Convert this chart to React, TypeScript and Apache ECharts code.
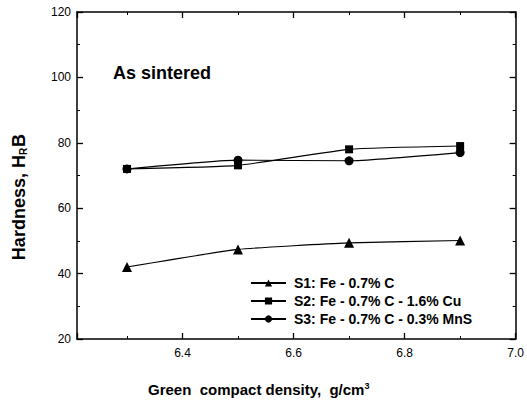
import React, { useEffect, useRef } from "react";
import * as echarts from "echarts";

const densities = [6.3, 6.5, 6.7, 6.9];
const s1Values = [42, 47.4, 49.4, 50.1];
const s2Values = [72, 73.1, 78, 79];
const s3Values = [72, 74.7, 74.5, 77];
const seriesNames = [
  "S1: Fe - 0.7% C",
  "S2: Fe - 0.7% C - 1.6% Cu",
  "S3: Fe - 0.7% C - 0.3% MnS",
];
const FONT = "'Liberation Sans', Arial, Helvetica, sans-serif";

export default function App() {
  const ref = useRef<HTMLDivElement>(null);
  useEffect(() => {
    if (!ref.current) return;
    const chart = echarts.init(ref.current, null, { renderer: "svg" });
    const pair = (vals: number[]) => densities.map((d, i) => [d, vals[i]]);
    const axisLine = { show: true, lineStyle: { color: "#000", width: 1.5 } };
    const xCommon = {
      type: "value" as const,
      min: 6.21,
      max: 7.0,
      splitNumber: 4,
      axisLine,
      axisTick: { show: true, inside: true, length: 6, lineStyle: { color: "#000", width: 1.3 } },
      minorTick: { show: true, splitNumber: 2, length: 3, lineStyle: { color: "#000", width: 1 } },
      splitLine: { show: false },
      minorSplitLine: { show: false },
    };
    const yCommon = {
      type: "value" as const,
      min: 20,
      max: 120,
      interval: 20,
      axisLine,
      axisTick: { show: true, inside: true, length: 6, lineStyle: { color: "#000", width: 1.3 } },
      minorTick: { show: true, splitNumber: 2, length: 3, lineStyle: { color: "#000", width: 1 } },
      splitLine: { show: false },
      minorSplitLine: { show: false },
    };
    const symbols = ["triangle", "rect", "circle"];
    const sizes = [10, 8, 9];
    const values = [s1Values, s2Values, s3Values];
    chart.setOption({
      animation: false,
      backgroundColor: "#fff",
      grid: { left: 77, right: 8, top: 12, bottom: 64, containLabel: false },
      xAxis: [
        {
          ...xCommon,
          position: "bottom",
          axisLabel: {
            show: true,
            showMinLabel: false,
            color: "#000",
            fontSize: 12,
            fontFamily: FONT,
            margin: 8,
            formatter: (v: number) => v.toFixed(1),
          },
        },
        { ...xCommon, position: "top", axisLabel: { show: false } },
      ],
      yAxis: [
        {
          ...yCommon,
          position: "left",
          axisLabel: { show: true, color: "#000", fontSize: 12, fontFamily: FONT, margin: 6 },
        },
        { ...yCommon, position: "right", axisLabel: { show: false } },
      ],
      legend: {
        orient: "vertical",
        left: 250,
        top: 276,
        padding: 0,
        itemWidth: 35,
        itemHeight: 9,
        itemGap: 4,
        data: seriesNames,
        textStyle: {
          color: "#000",
          fontSize: 14,
          fontWeight: "bold",
          fontFamily: FONT,
          padding: [0, 0, 0, 3],
        },
      },
      series: seriesNames.map((name, i) => ({
        name,
        type: "line",
        xAxisIndex: 0,
        yAxisIndex: 0,
        data: pair(values[i]),
        symbol: symbols[i],
        symbolSize: sizes[i],
        smooth: 0.15,
        color: "#000",
        itemStyle: { color: "#000" },
        lineStyle: { color: "#000", width: 1.1 },
      })),
      graphic: [
        {
          type: "text",
          left: 113,
          top: 64,
          style: {
            text: "As sintered",
            fill: "#000",
            font: `bold 18px ${FONT}`,
          },
        },
        {
          type: "text",
          x: 19,
          y: 197,
          rotation: Math.PI / 2,
          style: {
            text: "{a|Hardness, H}{s|R}{a|B}",
            fill: "#000",
            align: "center",
            verticalAlign: "middle",
            rich: {
              a: { fontSize: 18, fontWeight: "bold", fontFamily: FONT, fill: "#000", color: "#000" },
              s: {
                fontSize: 10,
                fontWeight: "bold",
                fontFamily: FONT,
                fill: "#000",
                color: "#000",
                verticalAlign: "bottom",
                padding: [0, 1, 0, 0],
              },
            },
          },
        },
        {
          type: "text",
          x: 148,
          y: 389,
          style: {
            text: "{a|Green  compact density,  g/cm}{s|3}",
            fill: "#000",
            align: "left",
            verticalAlign: "middle",
            rich: {
              a: { fontSize: 15, fontWeight: "bold", fontFamily: FONT, fill: "#000", color: "#000" },
              s: {
                fontSize: 9,
                fontWeight: "bold",
                fontFamily: FONT,
                fill: "#000",
                color: "#000",
                verticalAlign: "top",
              },
            },
          },
        },
      ],
    });
    return () => chart.dispose();
  }, []);
  return (
    <div
      ref={ref}
      style={{ position: "fixed", left: 0, top: 0, width: 527, height: 403, background: "#fff" }}
    />
  );
}
